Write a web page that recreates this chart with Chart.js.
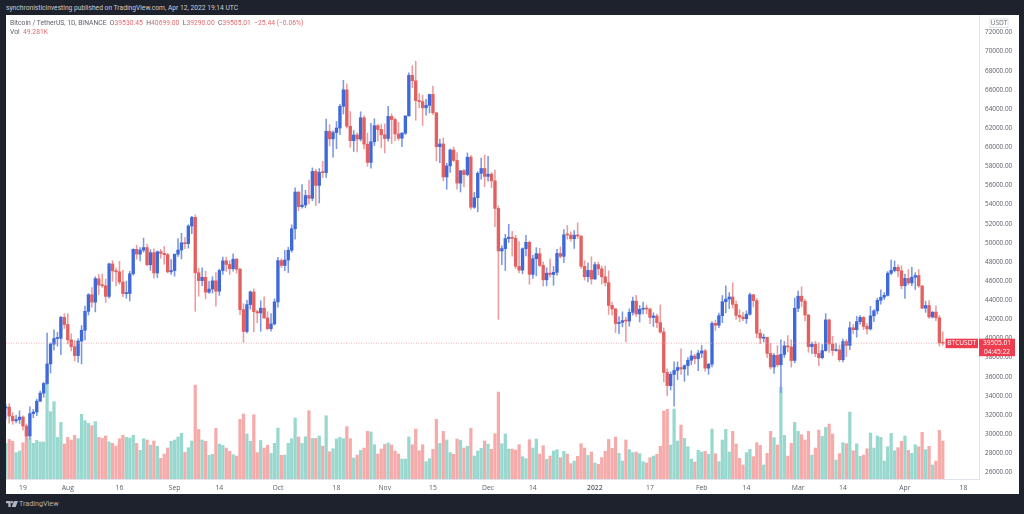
<!DOCTYPE html>
<html>
<head>
<meta charset="utf-8">
<script src="https://cdn.jsdelivr.net/npm/chart.js@4/dist/chart.umd.min.js"></script>
<style>
    body { margin: 0; width: 1024px; height: 514px; background: #1e222d; overflow: hidden; position: relative; font-family: Roboto, sans-serif; }
    #plot { position: absolute; left: 6px; top: 15px; width: 1013px; height: 479px; background: #fff; }
    .txt { position: absolute; white-space: nowrap; line-height: 10px; }
    #published { left: 6px; top: 3px; color: #c9ccd4; font-size: 6.7px; }
    #legend1, #legend2 { left: 10px; color: #5d606b; font-size: 6.75px; }
    #legend1 { top: 18px; }
    #legend2 { top: 27px; }
    .red { color: #e2686c; }
    #brand { left: 19px; top: 499px; color: #b2b5be; font-size: 7.2px; }
    #logo { position: absolute; left: 6px; top: 501px; }
</style>
</head>
<body>
<div id="plot"><canvas id="btcChart" width="1013" height="479"></canvas></div>
<div class="txt" id="published">synchronisticinvesting published on TradingView.com, Apr 12, 2022 19:14 UTC</div>
<div class="txt" id="legend1">Bitcoin / TetherUS, 1D, BINANCE &nbsp;O<span class="red">39530.45</span> &nbsp;H<span class="red">40699.00</span> &nbsp;L<span class="red">39290.00</span> &nbsp;C<span class="red">39505.01</span> &nbsp;<span class="red">−25.44 (−0.06%)</span></div>
<div class="txt" id="legend2">Vol &nbsp;<span class="red">49.281K</span></div>
<svg id="logo" width="12" height="6" viewBox="0 0 36 18"><path fill="#b2b5be" d="M0 0h14v18H7V7H0zM24 0h12l-7 18H17z"/><circle cx="18" cy="3.5" r="3.5" fill="#b2b5be"/></svg>
<div class="txt" id="brand">TradingView</div>

<script>
// daily candles, Jul 14 2021 to Apr 12 2022, day 0 is Jul 19
const firstDay = -5;

const opens = [
    32729,32820,31874,31383,31520,31778,30839,29796,32138,32305,33446,34278,35293,37338,39406,39996,40016,42207, // jul
    41461,39850,39146,38208,39723,40862,42836,44572,43794,46248,45585,45510,44400,47800,47069,46974,45902,44695,44699,46760,49322,48821,49239,49507,47707,48972,46843,49069,48895,48767,46970, // aug
    47100,48810,49246,50000,49917,51756,52666,46868,46048,46395,44843,45173,46026,44940,47104,48122,47737,47299,48293,47241,43016,40729,43546,44865,42810,42670,43160,42147,41025,41519, // sep
    43820,48142,47635,48200,49224,51471,55315,53785,53955,54949,54660,57471,56007,57372,57345,61672,60875,61528,62005,64280,66002,62193,60689,61287,60853,63078,60328,58413,60575,62253,61860, // oct
    61300,60911,63220,62896,61396,60940,61470,63273,67525,66947,64883,64774,64122,64380,65520,63606,60059,60344,56891,58053,59707,58617,56247,57541,57139,58961,53724,54721,57274,57777, // nov
    56950,57185,56485,53601,49152,49397,50441,50588,50471,47535,47149,49389,50054,46702,48336,48864,47632,46133,46834,46682,46914,48887,48588,50838,50821,50428,50802,50718,47543,46464,47120, // dec
    46217,47722,47287,46446,45832,43451,43082,41566,41680,41864,41822,42729,43902,42558,43059,43084,43072,42201,42352,41660,40680,36445,35071,36244,36660,36958,36809,37160,37716,38166,37881, // jan
    38466,38694,36897,37311,41571,41382,42380,43840,44118,44338,43565,42407,42244,42064,42535,44575,43961,40538,40031,40122,38431,37017,38230,37250,38328,39219,39116,37699, // feb
    43160,44421,43892,42458,39148,39398,38420,37988,38730,41941,39422,38730,38807,37778,39671,39280,41114,40917,41757,42201,41262,41002,42364,42882,43991,44313,44511,46827,47122,47434,47067, // mar
    45510,46283,45811,46407,46581,45497,43170,43445,42252,42753,42158,39530 // apr
];
const highs = [
    33114,33185,32249,31955,32435,31899,31063,32858,32576,33650,34500,35398,40550,39542,40900,40640,42320,42599,
    42599,40480,39780,39969,41350,43392,44700,45310,46454,46700,46743,46218,47886,48144,47372,48053,47160,46000,47033,49382,49757,49500,50500,49876,49284,49380,49150,49310,49632,48909,48246,
    48843,50450,51000,50558,51900,52780,52920,47340,47399,47033,45987,46460,46880,47250,48500,48500,48150,48843,48372,47347,43639,44000,44978,45200,42966,43950,44350,42787,42590,44141,
    48495,48336,49228,49536,51886,55750,55332,56100,55489,56561,57839,57680,57777,58532,62933,62378,61718,62695,64486,67000,66639,63732,61747,61500,63710,63293,61496,62499,62980,62359,62405,
    62437,64270,63500,63086,62605,61560,63286,67789,68524,69000,65600,65450,65000,65550,66401,63617,60840,60976,58320,59845,60029,59444,57550,57700,59398,59150,55280,57445,58865,59175,
    59053,57374,57600,53859,49700,50891,51936,51200,50797,50125,49485,50777,50189,48700,49500,49436,48004,47392,48300,47537,49328,49576,51375,51810,51156,51280,52088,50718,48139,47900,48548,
    47954,47990,47570,47557,47070,43816,43145,42300,42786,42248,43100,44322,44500,43448,43800,43475,43176,42691,42559,43505,41100,36835,36499,37550,37545,38919,37234,38000,38720,38359,38744,
    39265,38855,37387,41772,41913,42656,44500,45492,44798,45821,43920,43000,42760,42876,44751,44585,44164,40959,40444,40125,39494,38429,39249,39843,39683,40300,39855,44225,
    44949,45400,44101,42505,39613,39693,39547,39362,42594,42039,40236,39486,39310,39947,39887,41718,41478,42325,42400,42296,41544,43361,43025,44220,45094,44792,46999,48189,48096,47700,47600,
    46720,47213,47444,46890,47200,45507,43900,43970,42800,43410,42414,40699
];
const lows = [
    31550,31133,31020,31164,31108,30407,29278,29482,31708,31925,33401,33851,35205,36384,38772,39200,38313,41037,
    39422,38690,37642,37508,37332,39853,42446,43261,42779,44589,45341,43770,44217,45971,45500,45660,44376,44206,43927,46622,48285,48120,49029,47600,47123,46300,46360,48370,47762,46853,46700,
    46512,48584,48316,49400,49450,50969,42843,44412,45513,44132,44722,44742,43370,44508,46700,47020,46699,47035,46829,42500,39600,40570,43069,40675,41646,40750,42098,40888,40753,41410,
    43283,47430,47088,46891,49022,50382,53357,53617,53661,54080,54415,53879,54167,56818,56850,60150,58963,59844,61322,63481,62000,60000,59562,59510,60650,59817,58000,57820,60174,60673,59945,
    59405,60624,60382,60677,60721,60050,61322,63273,66222,62822,64100,62278,63360,63576,63400,58574,58373,56474,55600,57353,58486,55610,55317,55837,57000,53500,53610,53256,56666,55875,
    56458,55777,51680,42000,47727,47100,50039,48600,47320,46852,46751,48638,45672,46290,46547,47511,45456,45500,46406,45558,46630,48421,47920,50375,50180,49412,50449,47313,46096,45900,45678,
    46208,46654,45696,45502,42500,42430,40610,40501,41200,39650,41268,42450,42311,41725,42565,42581,41540,41250,41138,40553,35440,34008,34601,32917,35701,36234,35507,36155,37268,37351,36632,
    38000,36586,36250,37026,40843,41116,41645,42666,43117,43174,42000,41748,41870,41570,42427,43310,40073,39450,39639,38000,36800,36350,37036,34322,38014,38600,37000,37450,
    42809,43334,41832,38550,38407,38088,37155,37867,38656,38539,38223,38660,37578,37555,38098,38828,40500,40135,41499,40911,40467,40875,41751,42560,43579,44071,44421,46663,46950,46445,45200,
    44200,45620,45530,45118,45352,43121,42727,42107,42125,41868,39200,39290
];
const closes = [
    32820,31880,31383,31520,31778,30839,29796,32138,32305,33446,34278,35293,37338,39406,39996,40016,42206,41461,
    39845,39147,38207,39723,40862,42836,44572,43794,46253,45584,45511,44399,47800,47068,46973,45901,44695,44705,46760,49322,48821,49246,49507,47707,48972,46843,49069,48895,48767,46970,47100,
    48810,49246,49999,49915,51756,52663,46863,46048,46395,44842,45173,46026,44940,47111,48122,47737,47299,48293,47241,43015,40734,43543,44865,42810,42670,43160,42147,41026,41522,43824,
    48141,47634,48200,49224,51471,55315,53785,53951,54949,54659,57471,56005,57367,57347,61672,60875,61528,62009,64280,66001,62193,60688,61286,60852,63078,60328,58413,60575,62253,61859,61299,
    60911,63219,62896,61395,60937,61470,63273,67525,66947,64882,64774,64122,64380,65519,63606,60058,60344,56891,58052,59707,58622,56247,57541,57138,58960,53726,54721,57274,57776,56950,
    57184,56480,53601,49152,49396,50441,50588,50471,47545,47140,49389,50053,46702,48343,48864,47632,46131,46834,46681,46914,48889,48588,50838,50821,50429,50801,50718,47543,46464,47120,46216,
    47722,47286,46446,45832,43451,43082,41566,41679,41864,41822,42729,43902,42560,43059,43084,43071,42201,42352,41660,40680,36445,35071,36244,36660,36958,36809,37160,37716,38166,37881,38466,
    38695,36897,37311,41574,41382,42380,43840,44118,44338,43565,42407,42244,42064,42535,44575,43961,40538,40031,40122,38431,37017,38230,37250,38327,39219,39116,37699,43160,
    44421,43892,42454,39137,39398,38420,37988,38730,41941,39422,38730,38807,37778,39671,39280,41114,40917,41757,42201,41262,41002,42364,42882,43991,44313,44511,46827,47122,47434,47067,45510,
    46283,45811,46407,46581,45497,43170,43445,42252,42753,42158,39530,39505.01
];
// volume in thousands of BTC
const volumes = [
    46.3,51.4,48.9,34.2,36.3,47.1,63.5,52.7,46.3,50.1,48.0,48.0,124.1,87.3,100.3,54.0,73.5,45.4,
    54.0,50.6,56.6,52.3,83.9,75.7,72.2,69.2,74.4,54.0,52.7,55.8,48.0,46.3,42.8,52.3,56.6,54.0,53.2,56.6,46.3,37.2,52.3,50.6,44.1,49.3,42.4,26.8,32.4,40.2,48.9,
    50.6,54.5,59.2,34.6,40.6,49.3,121.9,64.4,50.6,48.9,30.7,32.0,65.7,45.4,43.7,40.2,35.9,31.6,29.8,77.4,84.3,58.4,48.9,83.4,34.2,50.1,40.2,43.7,33.3,46.3,
    66.1,30.7,31.1,46.3,52.3,79.1,54.5,46.3,54.9,88.6,52.7,52.7,55.8,42.8,82.1,35.4,39.3,51.9,54.0,52.3,67.9,52.3,27.2,31.1,37.2,40.2,61.8,61.0,44.5,32.4,38.9,
    45.0,46.7,44.1,36.3,32.4,25.9,25.9,54.5,44.5,64.8,36.7,44.5,22.5,26.4,38.5,77.4,46.3,61.8,50.6,34.2,32.0,51.9,50.1,40.2,42.4,65.7,29.8,36.3,39.8,49.3,
    45.4,38.5,58.8,112.8,45.8,58.4,38.9,38.9,37.6,44.5,29.0,26.4,51.0,40.2,51.9,32.4,43.2,25.5,29.8,36.3,38.0,27.7,35.9,32.4,19.9,23.3,29.4,45.8,40.2,30.7,35.0,
    20.8,19.0,27.7,35.9,51.4,39.8,54.5,33.3,23.3,50.6,38.0,34.2,35.0,32.9,22.5,20.8,27.7,29.8,32.0,42.4,88.2,90.4,44.1,90.8,49.3,70.0,52.7,41.9,25.9,22.0,37.2,
    35.0,35.9,32.0,64.8,32.9,22.5,50.6,64.4,35.0,61.8,45.4,26.8,18.2,34.2,38.5,29.0,47.1,43.7,18.2,33.3,61.8,53.6,44.1,119.3,56.6,29.8,46.3,73.5,
    61.8,57.5,50.6,61.8,31.1,40.2,63.5,55.3,67.0,71.3,58.4,24.6,32.9,47.1,45.8,86.9,36.7,45.8,29.4,31.1,39.3,59.7,40.2,55.8,54.0,23.3,41.9,59.2,36.7,40.6,48.9,
    55.8,37.2,33.3,44.5,41.9,60.5,38.0,42.4,18.2,23.3,63.1,49.3
];
const priceTicks = [26000,28000,30000,32000,34000,36000,38000,40000,42000,44000,46000,48000,50000,52000,54000,56000,58000,60000,62000,64000,66000,68000,70000,72000];
const timeTickDays = [0,13,28,44,57,74,91,105,119,135,148,166,182,197,210,225,238,256,273];
const timeTickLabels = ['19','Aug','16','Sep','14','Oct','18','Nov','15','Dec','14','2022','17','Feb','14','Mar','14','Apr','18'];
const lastPrice = 39505.01;
const countdown = '04:45:22';

const upColor = '#3f69d8', downColor = '#e2605f';
const wickUp = '#7b97e3', wickDown = '#eb9c9c';
const volUp = '#98d8cf', volDown = '#f6abab';
const up = closes.map((c, i) => c >= opens[i]);

function floating(a, b) {
    return a.map((v, i) => ({ x: i + firstDay, y: [v, b[i]] }));
}

// last price line and the red tags on the right
const lastPriceTags = {
    id: 'lastPriceTags',
    afterDatasetsDraw(chart) {
        const { ctx, chartArea, scales } = chart;
        const y = scales.y.getPixelForValue(lastPrice);
        ctx.save();
        ctx.strokeStyle = '#ef9aa3';
        ctx.lineWidth = 0.8;
        ctx.setLineDash([1, 1.5]);
        ctx.beginPath();
        ctx.moveTo(chartArea.left, y);
        ctx.lineTo(chartArea.right, y);
        ctx.stroke();
        ctx.setLineDash([]);
        ctx.fillStyle = '#ef3d50';
        ctx.fillRect(939.5, y - 4.5, 32.5, 9.5);
        ctx.fillRect(973, y - 4.5, 36, 17.5);
        ctx.fillStyle = '#fff';
        ctx.font = '6.6px "Open Sans"';
        ctx.textAlign = 'center';
        ctx.textBaseline = 'middle';
        ctx.fillText('BTCUSDT', 955.7, y + 0.3);
        ctx.fillText(lastPrice.toFixed(2), 991, y + 0.3);
        ctx.fillText(countdown, 991, y + 8.6);
        // currency box
        ctx.strokeStyle = '#d6d9e2';
        ctx.lineWidth = 0.8;
        ctx.strokeRect(984, 4, 18, 8.5);
        ctx.fillStyle = '#6a6d78';
        ctx.fillText('USDT', 993, 8.4);
        ctx.restore();
    }
};

new Chart(document.getElementById('btcChart'), {
    type: 'bar',
    data: {
        datasets: [
            { label: 'Body', data: floating(opens, closes), xAxisID: 'x', yAxisID: 'y', grouped: false, order: 1,
              barThickness: 2.7, minBarLength: 1, backgroundColor: up.map(u => u ? upColor : downColor), borderWidth: 0 },
            { label: 'Wick', data: floating(lows, highs), xAxisID: 'x', yAxisID: 'y', grouped: false, order: 2,
              barThickness: 0.9, backgroundColor: up.map(u => u ? wickUp : wickDown), borderWidth: 0 },
            { label: 'Vol', data: volumes.map((v, i) => ({ x: i + firstDay, y: v })), xAxisID: 'x', yAxisID: 'yVol', grouped: false, order: 3,
              barThickness: 2.6, backgroundColor: up.map(u => u ? volUp : volDown), borderWidth: 0 }
        ]
    },
    options: {
        responsive: false,
        animation: false,
        devicePixelRatio: 1,
        layout: { padding: 0, autoPadding: false },
        plugins: { legend: { display: false }, tooltip: { enabled: false }, title: { display: false } },
        scales: {
            x: {
                type: 'linear',
                min: -4.93,
                max: 277.5,
                offset: false,
                afterBuildTicks(scale) { scale.ticks = timeTickDays.map(v => ({ value: v })); },
                afterFit(scale) { scale.height = 15; },
                grid: { display: false, drawTicks: false },
                border: { color: '#e0e3eb', width: 1 },
                ticks: {
                    autoSkip: false, maxRotation: 0, padding: 5, color: '#5d606b',
                    font: c => ({ family: 'Open Sans', size: 6.8, weight: c.tick && c.tick.value === 166 ? '600' : '400' }),
                    callback: v => timeTickLabels[timeTickDays.indexOf(v)]
                }
            },
            y: {
                position: 'right',
                min: 25300,
                max: 73830,
                afterBuildTicks(scale) { scale.ticks = priceTicks.map(v => ({ value: v })); },
                afterFit(scale) { scale.width = 40; scale.paddingTop = 0; scale.paddingBottom = 0; },
                grid: { display: false, drawTicks: false },
                border: { color: '#e0e3eb', width: 1 },
                ticks: {
                    padding: 6, color: '#5d606b', align: 'center',
                    font: { family: 'Open Sans', size: 6.4 },
                    callback: v => v.toFixed(2)
                }
            },
            yVol: { display: false, min: 0, max: 602 }
        }
    },
    plugins: [lastPriceTags]
});
</script>
</body>
</html>
